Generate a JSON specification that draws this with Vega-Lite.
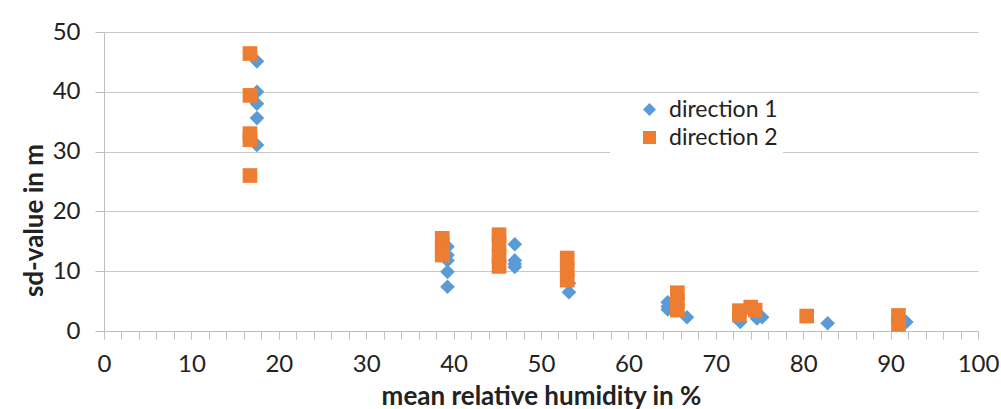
{
  "$schema": "https://vega.github.io/schema/vega-lite/v6.json",
  "autosize": {"type": "none"},
  "width": 874,
  "height": 299,
  "padding": {"left": 104, "top": 32, "right": 23, "bottom": 78},
  "background": "white",
  "config": {
    "view": {"stroke": null},
    "font": "Lato",
    "axis": {
      "labelFont": "Lato",
      "titleFont": "Lato",
      "labelColor": "#222222",
      "titleColor": "#222222",
      "domainColor": "#BFBFBF",
      "tickColor": "#BFBFBF",
      "gridColor": "#C8C8C8",
      "labelFontSize": 24,
      "titleFontSize": 26,
      "titleFontWeight": "bold"
    }
  },
  "data": {
    "values": [
      {"rh": 17.5, "sd": 45.1, "direction": "direction 1"},
      {"rh": 17.5, "sd": 40.0, "direction": "direction 1"},
      {"rh": 17.5, "sd": 38.0, "direction": "direction 1"},
      {"rh": 17.5, "sd": 35.6, "direction": "direction 1"},
      {"rh": 17.5, "sd": 31.1, "direction": "direction 1"},
      {"rh": 39.3, "sd": 14.1, "direction": "direction 1"},
      {"rh": 39.3, "sd": 12.7, "direction": "direction 1"},
      {"rh": 39.3, "sd": 11.8, "direction": "direction 1"},
      {"rh": 39.3, "sd": 9.9, "direction": "direction 1"},
      {"rh": 39.3, "sd": 7.4, "direction": "direction 1"},
      {"rh": 47.0, "sd": 14.5, "direction": "direction 1"},
      {"rh": 47.0, "sd": 11.8, "direction": "direction 1"},
      {"rh": 47.0, "sd": 11.2, "direction": "direction 1"},
      {"rh": 47.0, "sd": 10.7, "direction": "direction 1"},
      {"rh": 53.2, "sd": 8.0, "direction": "direction 1"},
      {"rh": 53.2, "sd": 6.5, "direction": "direction 1"},
      {"rh": 64.5, "sd": 4.8, "direction": "direction 1"},
      {"rh": 64.5, "sd": 4.1, "direction": "direction 1"},
      {"rh": 64.5, "sd": 3.6, "direction": "direction 1"},
      {"rh": 66.7, "sd": 2.3, "direction": "direction 1"},
      {"rh": 72.8, "sd": 1.5, "direction": "direction 1"},
      {"rh": 74.7, "sd": 2.1, "direction": "direction 1"},
      {"rh": 75.3, "sd": 2.3, "direction": "direction 1"},
      {"rh": 82.8, "sd": 1.3, "direction": "direction 1"},
      {"rh": 91.8, "sd": 1.5, "direction": "direction 1"},
      {"rh": 16.7, "sd": 46.4, "direction": "direction 2"},
      {"rh": 16.7, "sd": 39.4, "direction": "direction 2"},
      {"rh": 16.7, "sd": 33.0, "direction": "direction 2"},
      {"rh": 16.7, "sd": 32.0, "direction": "direction 2"},
      {"rh": 16.7, "sd": 26.0, "direction": "direction 2"},
      {"rh": 38.7, "sd": 15.5, "direction": "direction 2"},
      {"rh": 38.7, "sd": 14.5, "direction": "direction 2"},
      {"rh": 38.7, "sd": 13.5, "direction": "direction 2"},
      {"rh": 38.7, "sd": 12.7, "direction": "direction 2"},
      {"rh": 45.2, "sd": 16.1, "direction": "direction 2"},
      {"rh": 45.2, "sd": 14.5, "direction": "direction 2"},
      {"rh": 45.2, "sd": 12.5, "direction": "direction 2"},
      {"rh": 45.2, "sd": 10.8, "direction": "direction 2"},
      {"rh": 53.0, "sd": 12.2, "direction": "direction 2"},
      {"rh": 53.0, "sd": 10.3, "direction": "direction 2"},
      {"rh": 53.0, "sd": 8.5, "direction": "direction 2"},
      {"rh": 65.6, "sd": 6.4, "direction": "direction 2"},
      {"rh": 65.6, "sd": 5.0, "direction": "direction 2"},
      {"rh": 65.6, "sd": 3.5, "direction": "direction 2"},
      {"rh": 72.7, "sd": 3.4, "direction": "direction 2"},
      {"rh": 72.7, "sd": 2.7, "direction": "direction 2"},
      {"rh": 74.0, "sd": 4.0, "direction": "direction 2"},
      {"rh": 74.5, "sd": 3.5, "direction": "direction 2"},
      {"rh": 80.4, "sd": 2.5, "direction": "direction 2"},
      {"rh": 90.9, "sd": 2.6, "direction": "direction 2"},
      {"rh": 90.9, "sd": 1.1, "direction": "direction 2"}
    ]
  },
  "mark": {"type": "point", "filled": true, "size": 215, "opacity": 1},
  "encoding": {
    "x": {
      "field": "rh",
      "type": "quantitative",
      "scale": {"domain": [0, 100], "nice": false, "zero": false},
      "axis": {
        "title": "mean relative humidity in %",
        "values": [0,2,4,6,8,10,12,14,16,18,20,22,24,26,28,30,32,34,36,38,40,42,44,46,48,50,52,54,56,58,60,62,64,66,68,70,72,74,76,78,80,82,84,86,88,90,92,94,96,98,100],
        "labelExpr": "datum.value % 10 === 0 ? datum.label : ''",
        "grid": false,
        "tickSize": 8,
        "labelPadding": 13,
        "labelFlush": false,
        "labelOverlap": false,
        "titleY": 73,
        "titleBaseline": "alphabetic"
      }
    },
    "y": {
      "field": "sd",
      "type": "quantitative",
      "scale": {"domain": [0, 50], "nice": false},
      "axis": {
        "title": "sd-value in m",
        "values": [0, 10, 20, 30, 40, 50],
        "tickSize": 9,
        "labelPadding": 15,
        "titleX": -70,
        "titleY": 188,
        "titleBaseline": "middle",
        "titleAngle": 270
      }
    },
    "color": {
      "field": "direction",
      "type": "nominal",
      "scale": {"domain": ["direction 1", "direction 2"], "range": ["#5B9BD5", "#ED7D31"]},
      "legend": {
        "title": null,
        "orient": "none",
        "legendX": 506,
        "legendY": 61,
        "padding": 5,
        "fillColor": "white",
        "symbolOffset": 23,
        "labelFontSize": 23,
        "labelFont": "Lato",
        "labelColor": "#222222",
        "labelOffset": 8,
        "symbolSize": 170,
        "rowPadding": 4,
        "labelExpr": "datum.label + '          '"
      }
    },
    "shape": {
      "field": "direction",
      "type": "nominal",
      "scale": {"domain": ["direction 1", "direction 2"], "range": ["diamond", "square"]},
      "legend": {
        "title": null,
        "orient": "none",
        "legendX": 506,
        "legendY": 61,
        "padding": 5,
        "fillColor": "white",
        "symbolOffset": 23,
        "labelFontSize": 23,
        "labelFont": "Lato",
        "labelColor": "#222222",
        "labelOffset": 8,
        "symbolSize": 170,
        "rowPadding": 4,
        "labelExpr": "datum.label + '          '"
      }
    }
  }
}
